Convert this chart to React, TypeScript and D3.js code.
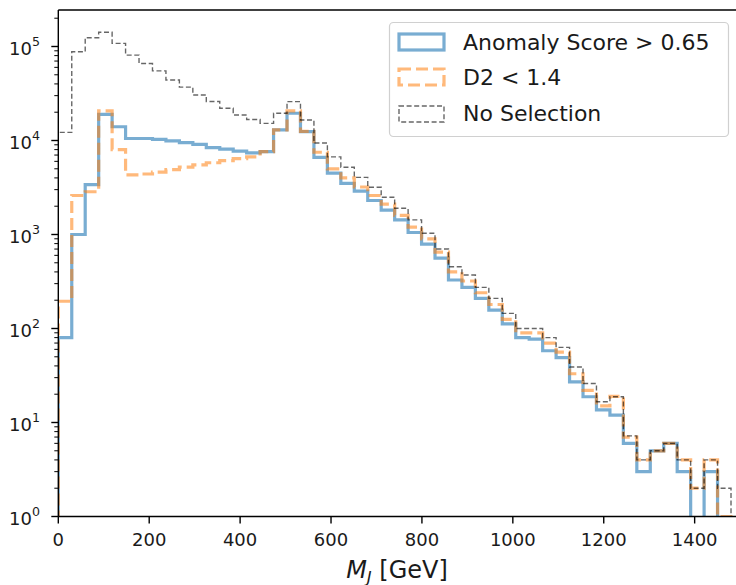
import React from "react";
import * as d3 from "d3";

// ---------- data ----------
const binWidth = 29.6; // GeV
const nBins = 50;
const binEdges = d3.range(nBins + 1).map((i) => i * binWidth);

const anomaly = [
  80, 1000, 3400, 19000, 14000, 10500, 10500, 10300, 9900, 9500,
  9100, 8400, 8100, 7700, 7400, 7600, 13000, 19500, 12400, 6600,
  4500, 3500, 2900, 2300, 1820, 1430, 1050, 790, 560, 328,
  274, 209, 157, 112, 80, 77, 58, 49, 27, 18.8,
  13.6, 12, 6, 3, 5, 6, 3, 0, 3, 0,
];
const d2 = [
  195, 2600, 2850, 20700, 8000, 4300, 4400, 4600, 4900, 5200,
  5500, 5800, 6100, 6400, 6700, 7600, 13000, 20700, 12500, 7500,
  5000, 4000, 3200, 2600, 2100, 1600, 1200, 900, 650, 400,
  320, 240, 180, 125, 90, 90, 70, 56, 33, 22,
  15, 19, 7, 4, 5, 6, 4, 2, 4, 1,
];
const noSel = [
  12200, 88000, 124000, 142000, 108000, 81000, 66000, 55000, 44000, 37000,
  30500, 26000, 22000, 18700, 16700, 15200, 19500, 25900, 16500, 9400,
  6700, 5200, 4050, 3180, 2490, 1900, 1430, 1030, 700, 454,
  371, 274, 209, 145, 100, 100, 80, 63, 39, 26,
  16.6, 18.8, 7.2, 4, 5, 6, 4, 2, 4, 2,
];

const xTicks = [0, 200, 400, 600, 800, 1000, 1200, 1400];
const yDecades = [0, 1, 2, 3, 4, 5];
const legendLabels = ["Anomaly Score > 0.65", "D2 < 1.4", "No Selection"];

// ---------- layout ----------
const W = 736;
const H = 585;
const left = 58.3;
const bottom = 516.5;
const top = 10;
const right = 740.1;

const FONT = "'DejaVu Sans', sans-serif";

export default function App() {
  const x = d3.scaleLinear().domain([0, 1500]).range([left, right]);
  const y = d3
    .scaleLog()
    .domain([1, Math.pow(10, (bottom - top) / 94)])
    .range([bottom, top]);

  const floor = 0.05;
  const stepPath = (vals: number[]) => {
    const pts: [number, number][] = [];
    pts.push([binEdges[0], floor]);
    vals.forEach((v, i) => pts.push([binEdges[i], Math.max(v, floor)]));
    pts.push([binEdges[nBins], Math.max(vals[nBins - 1], floor)]);
    pts.push([binEdges[nBins], floor]);
    return d3
      .line<[number, number]>()
      .x((d) => x(d[0]))
      .y((d) => Math.min(y(d[1]), bottom + 40))
      .curve(d3.curveStepAfter)(pts) as string;
  };

  const minorTicks: number[] = [];
  for (let k = 0; k <= 5; k++) {
    for (let m = 2; m <= 9; m++) {
      const v = m * Math.pow(10, k);
      if (y(v) >= top) minorTicks.push(v);
    }
  }

  const blue = "#1f77b4";
  const orange = "#ff7f0e";

  return (
    <svg
      width={W}
      height={H}
      style={{ position: "absolute", left: 0, top: 0, background: "#fff" }}
      fontFamily={FONT}
    >
      <defs>
        <clipPath id="axclip">
          <rect x={left} y={top} width={right - left} height={bottom - top} />
        </clipPath>
      </defs>
      <rect x={0} y={0} width={W} height={H} fill="#fff" />

      <g clipPath="url(#axclip)" fill="none">
        <path d={stepPath(anomaly)} stroke={blue} strokeOpacity={0.6} strokeWidth={3.2} strokeLinejoin="miter" />
        <path
          d={stepPath(d2)}
          stroke={orange}
          strokeOpacity={0.55}
          strokeWidth={3.2}
          strokeDasharray="12,5"
          strokeLinejoin="miter"
        />
        <path
          d={stepPath(noSel)}
          stroke="#000"
          strokeOpacity={0.6}
          strokeWidth={1.4}
          strokeDasharray="5,2.6"
          strokeLinejoin="miter"
        />
      </g>

      {/* spines */}
      <line x1={left} x2={left} y1={top} y2={bottom} stroke="#000" strokeWidth={1.4} />
      <line x1={left} x2={W + 10} y1={top} y2={top} stroke="#000" strokeWidth={1.4} />
      <line x1={left} x2={W + 10} y1={bottom} y2={bottom} stroke="#000" strokeWidth={1.4} />

      {/* x ticks */}
      {xTicks.map((t) => (
        <g key={t}>
          <line x1={x(t)} x2={x(t)} y1={bottom} y2={bottom + 7} stroke="#000" strokeWidth={1.4} />
          <text x={x(t)} y={545.5} fontSize={18} textAnchor="middle" fill="#1a1a1a">
            {t}
          </text>
        </g>
      ))}

      {/* y ticks */}
      {yDecades.map((k) => {
        const yy = y(Math.pow(10, k));
        return (
          <g key={k}>
            <line x1={left - 7} x2={left} y1={yy} y2={yy} stroke="#000" strokeWidth={1.4} />
            <text x={40} y={yy + 8} fontSize={18} textAnchor="end" fill="#1a1a1a">
              10
              <tspan fontSize={12.6} dy={-8.5}>
                {k}
              </tspan>
            </text>
          </g>
        );
      })}
      {minorTicks.map((v) => (
        <line key={v} x1={left - 4} x2={left} y1={y(v)} y2={y(v)} stroke="#000" strokeWidth={1} />
      ))}

      {/* x label */}
      <text x={397} y={578} fontSize={24} textAnchor="middle" fill="#1a1a1a">
        <tspan fontStyle="italic">M</tspan>
        <tspan fontStyle="italic" fontSize={16.5} dy={4.5}>
          J
        </tspan>
        <tspan dy={-4.5}> [GeV]</tspan>
      </text>

      {/* legend */}
      <g>
        <rect x={389.5} y={22.5} width={339} height={114} rx={4} fill="#fff" fillOpacity={0.8} stroke="#d0d0d0" strokeWidth={1.2} />
        <rect x={399} y={34} width={45} height={16} fill="none" stroke={blue} strokeOpacity={0.6} strokeWidth={3.2} />
        <rect x={399} y={69} width={45} height={16} fill="none" stroke={orange} strokeOpacity={0.55} strokeWidth={3.2} strokeDasharray="12,5" />
        <rect x={399} y={106} width={45} height={16} fill="none" stroke="#000" strokeOpacity={0.6} strokeWidth={1.4} strokeDasharray="5,2.6" />
        {legendLabels.map((l, i) => (
          <text key={l} x={463} y={[49.5, 85, 120.5][i]} fontSize={22} fill="#1a1a1a">
            {l}
          </text>
        ))}
      </g>
    </svg>
  );
}
